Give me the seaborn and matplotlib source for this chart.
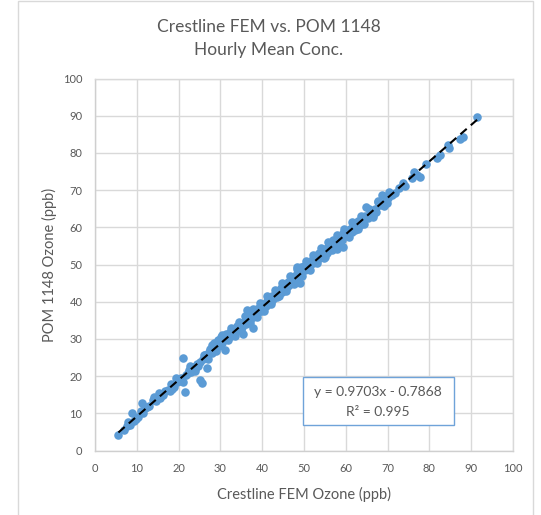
import numpy as np
import pandas as pd
import matplotlib
matplotlib.use("Agg")
import matplotlib.pyplot as plt
from matplotlib.patches import Rectangle
import seaborn as sns

# ---- data ----
fem = [5.6, 7.0, 7.6, 8.0, 8.4, 8.9, 9.3, 9.8, 10.4, 10.9, 11.3, 11.6, 12.0, 12.5, 13.0,
       13.8, 14.2, 14.6, 15.2, 15.6, 16.3, 16.8, 17.4, 17.9, 18.3, 18.5, 18.8, 19.3, 19.6,
       20.2, 20.6,
       21.1, 21.5, 21.0, 21.8, 22.2, 22.6, 23.0, 23.4, 23.9, 24.3, 24.6, 25.0, 25.1, 25.5,
       25.9, 26.3, 26.7, 26.9, 27.3, 27.6, 27.9, 28.2, 28.5, 28.8, 29.1, 29.4, 29.7, 30.0,
       30.2, 30.5, 30.8, 31.1, 31.3, 31.6,
       31.9, 32.2, 32.5, 32.8, 33.1, 33.4, 33.6, 33.9, 34.2, 34.5, 34.8, 35.1, 35.3, 35.5,
       35.8, 36.1, 36.3, 36.6, 36.9, 37.2, 37.4, 37.7, 37.9, 38.2, 38.5, 38.7, 39.0, 39.3,
       39.6, 39.9, 40.2, 40.5, 40.8, 41.1, 41.4, 41.7, 42.0, 42.3, 42.6, 42.9, 43.2, 43.5,
       43.8, 44.1, 44.4, 44.7, 45.0, 45.3, 45.6, 45.9, 46.2, 46.5, 46.8, 47.1, 47.4, 47.7,
       48.0, 48.3, 48.6, 49.0, 49.1, 49.4, 49.7, 50.0,
       50.3, 50.6, 50.9, 51.2, 51.5, 51.8, 52.1, 52.4, 52.7, 53.0, 53.3, 53.6, 53.9, 54.2,
       54.5, 54.8, 55.1, 55.4, 55.7, 56.0, 56.4, 56.7, 57.0, 57.3, 57.6, 57.9, 58.2, 58.5,
       58.8, 59.1, 59.4, 59.4, 60.0, 60.3, 60.6, 61.0, 61.4, 61.8, 62.2, 62.6, 63.0, 63.4,
       63.8, 64.2, 64.6, 64.8, 65.3, 65.7, 66.1, 66.5, 66.9, 67.3, 67.8, 68.3, 68.6, 69.1,
       69.5, 70.0,
       71.0, 71.8, 72.7, 73.8, 74.2, 75.8, 76.4, 77.0, 77.8, 79.2, 81.7, 82.5, 84.5, 84.8,
       87.3, 88.0, 91.5,
       22.8, 24.0, 26.0, 27.0, 28.0, 29.0, 30.4, 31.8, 32.6, 33.5, 34.4, 35.0, 36.0, 37.0,
       37.8, 38.8, 39.5, 40.4, 41.2, 42.2, 43.0, 44.0, 44.8, 45.8, 46.6, 47.6, 48.4, 49.5,
       50.4, 51.4, 52.2, 53.2, 54.0, 55.0, 55.8, 56.8, 57.8, 58.6, 59.6, 60.8, 61.6, 62.8,
       63.6, 64.4, 65.6, 66.6, 67.6, 68.8, 70.4, 69.8]

pom = [4.2, 5.5, 6.6, 7.6, 6.8, 10.2, 8.0, 8.6, 9.0, 10.6, 12.8, 10.2, 11.4, 11.6, 12.0,
       13.5, 14.3, 13.2, 15.4, 14.2, 14.8, 15.9, 16.2, 16.0, 17.8, 16.4, 17.0, 19.5, 18.4,
       18.8, 19.6,
       24.8, 15.8, 18.4, 20.4, 20.8, 21.6, 21.2, 22.4, 22.0, 23.2, 22.6, 23.8, 19.0, 18.1,
       24.5, 25.8, 22.1, 25.4, 26.6, 27.4, 26.3, 27.0, 29.0, 27.8, 28.4, 29.6, 28.2, 29.3,
       30.6, 28.9, 30.0, 27.0, 31.2, 30.2,
       30.6, 31.8, 30.9, 31.4, 32.6, 31.6, 32.2, 33.4, 32.3, 33.0, 34.2, 33.2, 31.2, 34.0,
       34.8, 33.9, 37.8, 35.4, 35.9, 35.0, 36.6, 36.0, 32.8, 37.2, 36.5, 38.0, 37.2, 38.4,
       37.6, 39.0, 38.2, 39.5, 38.8, 40.3, 39.4, 40.8, 40.0, 41.6, 40.6, 41.2, 42.4, 41.3,
       42.8, 42.2, 43.6, 42.6, 44.2, 43.3, 44.8, 44.0, 45.4, 44.5, 46.2, 45.3, 46.6, 45.8,
       47.3, 48.8, 47.0, 44.9, 48.0, 49.3, 48.4, 49.6,
       48.6, 50.2, 49.0, 50.6, 49.8, 51.2, 50.3, 51.8, 51.0, 52.5, 51.6, 53.0, 52.2, 53.6,
       52.6, 51.8, 54.2, 53.2, 54.8, 54.0, 55.3, 54.4, 56.6, 55.6, 56.4, 54.2, 57.0, 56.0,
       57.6, 56.6, 58.4, 54.6, 57.8, 59.0, 58.2, 59.6, 58.8, 60.4, 59.4, 60.8, 61.6, 60.6,
       62.2, 61.4, 63.0, 65.5, 62.4, 63.6, 64.4, 63.2, 65.0, 64.2, 66.8, 66.0, 68.7, 65.6,
       67.2, 68.0,
       68.6, 69.1, 70.5, 71.8, 71.1, 73.2, 74.9, 74.1, 73.4, 77.0, 78.5, 79.4, 82.1, 81.2,
       83.7, 84.4, 89.7,
       22.8, 21.4, 25.6, 24.6, 28.4, 26.8, 31.0, 29.6, 32.8, 30.8, 34.6, 32.4, 36.2, 34.2,
       38.0, 35.8, 39.6, 37.6, 41.4, 39.4, 43.2, 41.4, 45.0, 43.0, 47.0, 44.8, 49.2, 47.0,
       51.0, 48.6, 52.6, 50.4, 54.4, 52.0, 56.0, 53.8, 57.8, 55.2, 59.6, 57.4, 61.4, 59.6,
       63.0, 61.0, 65.0, 62.8, 67.2, 66.4, 69.6, 66.4]

title_lines = ["Crestline FEM vs. POM 1148", "Hourly Mean Conc."]
x_label = "Crestline FEM Ozone (ppb)"
y_label = "POM 1148 Ozone (ppb)"
eq_lines = ["y = 0.9703x - 0.7868", "R² = 0.995"]
ticks = list(range(0, 101, 10))

df = pd.DataFrame({"fem": fem, "pom": pom})

# ---- style ----
sns.set_theme(style="white")
plt.rcParams['font.family'] = ['Lato', 'DejaVu Sans']
TXT = "#595959"
GRID = "#D9D9D9"
BLUE = "#5B9BD5"

W, H = 541, 515
fig = plt.figure(figsize=(W / 100, H / 100), dpi=100)
fig.patch.set_facecolor("white")

L, R, T, B = 95, 513, 78.5, 450.5
ax = fig.add_axes([L / W, 1 - B / H, (R - L) / W, (B - T) / H])

sns.regplot(data=df, x="fem", y="pom", ci=None, ax=ax, truncate=True,
            scatter_kws=dict(s=38, color=BLUE, alpha=1, linewidths=0, zorder=3),
            line_kws=dict(color="black", lw=1.5, ls=(0, (4, 2.6)), zorder=4))

ax.set_xlim(0, 100)
ax.set_ylim(0, 100)
ax.set_xticks(ticks)
ax.set_yticks(ticks)
ax.grid(True, color=GRID, lw=1)
ax.set_axisbelow(True)
for s in ax.spines.values():
    s.set_color(GRID)
    s.set_linewidth(1)
ax.spines["left"].set_color("#CFCFCF")
ax.spines["bottom"].set_color("#CFCFCF")
ax.tick_params(axis="both", length=0, labelsize=8, labelcolor=TXT)
ax.tick_params(axis="y", pad=9)
ax.tick_params(axis="x", pad=9)

ax.set_xlabel(x_label, fontsize=10.5, color=TXT, labelpad=9)
ax.set_ylabel(y_label, fontsize=10.5, color=TXT, labelpad=4)

# title
fig.text(269 / W, 1 - 32 / H, title_lines[0], ha="center", va="baseline",
         fontsize=12.5, color=TXT)
fig.text(269 / W, 1 - 55 / H, title_lines[1], ha="center", va="baseline",
         fontsize=12.5, color=TXT)

# equation box
fig.patches.append(Rectangle((303 / W, 1 - 425 / H), (454 - 303) / W, (425 - 377) / H,
                             transform=fig.transFigure, facecolor="white",
                             edgecolor="#6FA3D9", lw=1, zorder=5))
fig.text(377.5 / W, 1 - 396.5 / H, eq_lines[0], ha="center", va="baseline",
         fontsize=10, color=TXT, zorder=6)
fig.text(378 / W, 1 - 416.5 / H, eq_lines[1], ha="center", va="baseline",
         fontsize=10, color=TXT, zorder=6)

# outer chart frame
fig.patches.append(Rectangle((18 / W, -0.05), (533 - 18) / W, 1.05 - 0.5 / H,
                             transform=fig.transFigure, facecolor="none",
                             edgecolor=GRID, lw=1, zorder=0))

fig.savefig("out.png", dpi=100, facecolor="white")
